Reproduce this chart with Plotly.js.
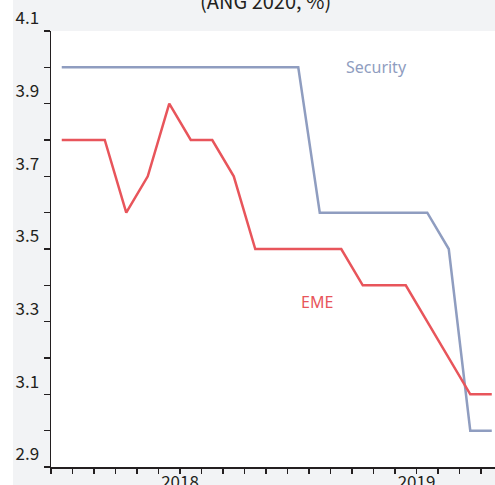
<!DOCTYPE html>
<html>
<head>
<meta charset="utf-8">
<script src="https://cdn.plot.ly/plotly-3.0.1.min.js"></script>
<style>
  html, body { margin: 0; padding: 0; background: #ffffff; }
  #chart { position: absolute; left: 13px; top: 0; width: 482px; height: 485px; }
</style>
</head>
<body>
<div id="chart"></div>
<script>
// month index (one point per month)
const months = [0, 1, 2, 3, 4, 5, 6, 7, 8, 9, 10, 11, 12, 13, 14, 15, 16, 17, 18, 19, 20];
const security = [4.0, 4.0, 4.0, 4.0, 4.0, 4.0, 4.0, 4.0, 4.0, 4.0, 4.0, 4.0, 3.6, 3.6, 3.6, 3.6, 3.6, 3.6, 3.5, 3.0, 3.0];
const eme = [3.8, 3.8, 3.8, 3.6, 3.7, 3.9, 3.8, 3.8, 3.7, 3.5, 3.5, 3.5, 3.5, 3.5, 3.4, 3.4, 3.4, 3.3, 3.2, 3.1, 3.1];
const monthBoundaries = [-0.5, 0.5, 1.5, 2.5, 3.5, 4.5, 5.5, 6.5, 7.5, 8.5, 9.5, 10.5, 11.5, 12.5, 13.5, 14.5, 15.5, 16.5, 17.5, 18.5, 19.5];
const boundaryLabels = ['', '', '', '', '', '', '2018', '', '', '', '', '', '', '', '', '', '', '2019', '', '', ''];
const yTickVals = [2.9, 3.1, 3.3, 3.5, 3.7, 3.9, 4.1];
const titleText = '(ANG 2020, %)';

const secColor = '#8f9dc0';
const emeColor = '#e8555b';
const ink = '#231f20';

const traces = [
  { x: months, y: security, type: 'scatter', mode: 'lines', name: 'Security',
    line: { color: secColor, width: 2.5 }, hoverinfo: 'skip' },
  { x: months, y: eme, type: 'scatter', mode: 'lines', name: 'EME',
    line: { color: emeColor, width: 2.5 }, hoverinfo: 'skip' }
];

const layout = {
  width: 482, height: 485,
  margin: { l: 38, r: 0, t: 31, b: 18, pad: 0 },
  paper_bgcolor: '#f2f3f5',
  plot_bgcolor: '#ffffff',
  showlegend: false,
  font: { family: 'Noto Sans CJK JP, Noto Sans, sans-serif', color: ink },
  xaxis: {
    range: [-0.5, 20.15],
    showgrid: false, zeroline: false,
    showline: true, linecolor: ink, linewidth: 1.5,
    tickmode: 'array', tickvals: monthBoundaries, ticktext: boundaryLabels,
    ticks: 'outside', ticklen: 5, tickwidth: 1.2, tickcolor: ink,
    ticklabelstandoff: -6,
    tickfont: { size: 17, color: ink, family: 'Noto Sans CJK JP, sans-serif' },
    fixedrange: true
  },
  yaxis: {
    range: [2.9, 4.1],
    showgrid: false, zeroline: false,
    showline: true, linecolor: ink, linewidth: 1.5,
    tickmode: 'array', tickvals: yTickVals, tickformat: '.1f',
    ticks: 'outside', ticklen: 6, tickwidth: 1.2, tickcolor: ink,
    ticklabelposition: 'outside top',
    ticklabelstandoff: 7,
    minor: { tickmode: 'linear', tick0: 2.9, dtick: 0.1, ticks: 'outside', ticklen: 6, tickwidth: 1.2, tickcolor: ink },
    tickfont: { size: 17, color: ink, family: 'Noto Sans CJK JP, sans-serif' },
    fixedrange: true
  },
  annotations: [
    { xref: 'paper', yref: 'paper', x: 0.484, y: 1.069, yanchor: 'middle', xanchor: 'center',
      text: titleText, showarrow: false,
      font: { size: 20, color: ink, family: 'Noto Sans CJK JP, sans-serif' } },
    { x: 14.64, y: 4.0, xref: 'x', yref: 'y', text: 'Security', showarrow: false,
      font: { size: 16, color: secColor, family: 'Noto Sans, sans-serif' } },
    { x: 11.86, y: 3.354, xref: 'x', yref: 'y', text: 'EME', showarrow: false,
      font: { size: 16, color: emeColor, family: 'Noto Sans, sans-serif' } }
  ]
};

Plotly.newPlot('chart', traces, layout, { displayModeBar: false, staticPlot: true });
</script>
</body>
</html>
